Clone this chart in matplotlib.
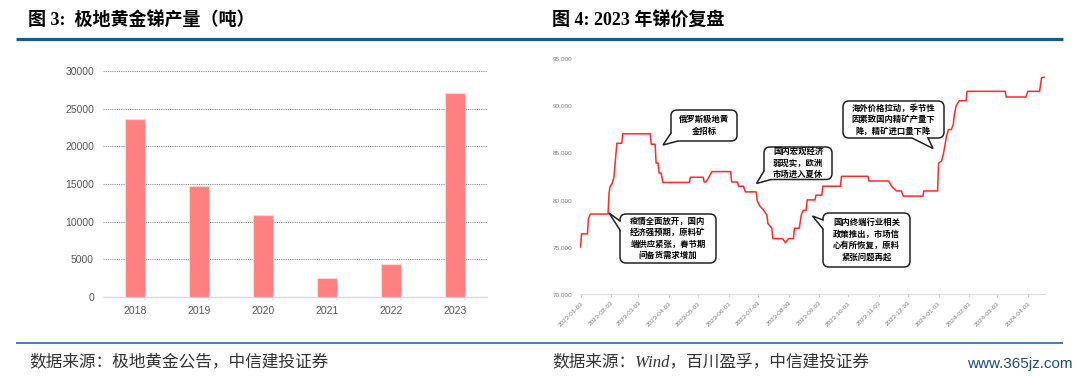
import matplotlib
matplotlib.use("Agg")
import matplotlib.pyplot as plt
from matplotlib.patches import FancyBboxPatch, Polygon
from matplotlib.ticker import FuncFormatter
import pandas as pd
import numpy as np

plt.rcParams['font.family'] = ['Liberation Sans', 'Noto Sans CJK SC', 'DejaVu Sans']

# 图3 data
years = ['2018', '2019', '2020', '2021', '2022', '2023']
output_t = [23600, 14750, 10950, 2480, 4370, 27130]

# 图4 data (price change points)
price_dates = [
    '2023-01-03', '2023-01-04', '2023-01-10', '2023-01-11', '2023-01-13', '2023-01-31',
    '2023-02-01', '2023-02-02', '2023-02-04', '2023-02-06', '2023-02-09', '2023-02-14',
    '2023-02-15', '2023-03-15', '2023-03-16', '2023-03-20', '2023-03-21', '2023-03-23',
    '2023-03-24', '2023-03-26', '2023-03-28', '2023-04-24', '2023-04-25', '2023-05-08',
    '2023-05-09', '2023-05-11', '2023-05-13', '2023-05-17', '2023-06-05', '2023-06-06',
    '2023-06-12', '2023-06-13', '2023-06-18', '2023-06-20', '2023-07-01', '2023-07-02',
    '2023-07-05', '2023-07-08', '2023-07-12', '2023-07-13', '2023-07-17', '2023-07-18',
    '2023-07-28', '2023-07-31', '2023-08-03', '2023-08-08', '2023-08-09', '2023-08-14',
    '2023-08-16', '2023-08-18', '2023-08-21', '2023-08-22', '2023-08-30', '2023-08-31',
    '2023-09-06', '2023-09-07', '2023-09-25', '2023-09-26', '2023-10-23', '2023-10-24',
    '2023-11-13', '2023-11-16', '2023-11-21', '2023-11-26', '2023-11-28', '2023-12-18',
    '2023-12-19', '2024-01-02', '2024-01-03', '2024-01-06', '2024-01-08', '2024-01-11',
    '2024-01-13', '2024-01-16', '2024-01-18', '2024-01-19', '2024-01-21', '2024-01-24',
    '2024-01-31', '2024-02-01', '2024-03-11', '2024-03-12', '2024-04-01', '2024-04-03',
    '2024-04-15', '2024-04-17', '2024-04-20',
]
price = [
    75000, 76400, 76400, 78000, 78500, 78500,
    80700, 81400, 81700, 82400, 86000, 86000,
    87000, 87000, 85900, 85900, 83900, 83900,
    82850, 82850, 81850, 81850, 82400, 82400,
    81900, 81900, 82250, 83000, 83000, 81900,
    81900, 81450, 81450, 80850, 80850, 79950,
    79300, 79000, 78400, 77500, 77000, 75900,
    75900, 75450, 75900, 75900, 77000, 77000,
    78400, 78900, 78900, 80000, 80000, 80500,
    80500, 81450, 81450, 82500, 82500, 82000,
    82000, 81450, 80950, 80950, 80400, 80400,
    80950, 80950, 83900, 84100, 84900, 86700,
    87450, 87450, 88000, 89000, 90000, 90500,
    90500, 91500, 91500, 90900, 90900, 91500,
    91500, 92950, 93000,
]
tick_dates = ['2023-01-03', '2023-02-03', '2023-03-03', '2023-04-03', '2023-05-03',
              '2023-06-03', '2023-07-03', '2023-08-03', '2023-09-03', '2023-10-03',
              '2023-11-03', '2023-12-03', '2024-01-03', '2024-02-03', '2024-03-03',
              '2024-04-03']

callouts = [
    ['俄罗斯极地黄', '金招标'],
    ['国内宏观经济', '弱现实，欧洲', '市场进入夏休'],
    ['海外价格拉动，季节性', '因素致国内精矿产量下', '降，精矿进口量下降'],
    ['疫情全面放开，国内', '经济强预期，原料矿', '端供应紧张，春节期', '间备货需求增加'],
    ['国内终端行业相关', '政策推出，市场信', '心有所恢复，原料', '紧张问题再起'],
]

W, H = 1080, 379
fig = plt.figure(figsize=(W / 100, H / 100), dpi=100)


def px_axes(x0, y0, x1, y1):
    # axes placed by pixel box (y measured from top)
    return fig.add_axes([x0 / W, 1 - y1 / H, (x1 - x0) / W, (y1 - y0) / H])


# ---- left: bar chart ----
ax1 = px_axes(103, 71, 487, 297)
x = np.arange(len(years))
ax1.bar(x, output_t, width=0.3, color='#FF8080', edgecolor='#FFD6D6', linewidth=0.8, zorder=3)
ax1.set_xlim(-0.5, len(years) - 0.5)
ax1.set_ylim(0, 30000)
ax1.set_yticks(range(0, 30001, 5000))
ax1.set_xticks(x)
ax1.set_xticklabels(years)
for v in range(5000, 30001, 5000):
    ax1.axhline(v, color='#8c8c8c', linestyle=(0, (1, 1)), linewidth=0.8, zorder=1)
for s in ['top', 'right', 'left']:
    ax1.spines[s].set_visible(False)
ax1.spines['bottom'].set_color('#d9d9d9')
ax1.spines['bottom'].set_linewidth(1.0)
ax1.tick_params(axis='both', length=0, labelsize=7.5, labelcolor='#595959', pad=6.5)

# ---- right: price line ----
ax2 = px_axes(579.6, 58.3, 1044.5, 294.3)
dates = pd.to_datetime(price_dates)
ax2.plot(dates, price, color='#FF2A2A', linewidth=1.1, zorder=3)
ax2.set_ylim(70000, 95000)
ax2.set_xlim(pd.Timestamp('2023-01-02'), pd.Timestamp('2024-04-20'))
ax2.set_yticks(range(70000, 95001, 5000))
ax2.yaxis.set_major_formatter(FuncFormatter(lambda v, p: f'{int(v):,}'))
ax2.set_xticks(pd.to_datetime(tick_dates))
ax2.set_xticklabels(tick_dates, rotation=45, ha='right', rotation_mode='anchor')
for s in ['top', 'right', 'left']:
    ax2.spines[s].set_visible(False)
ax2.spines['bottom'].set_color('#e0e0e0')
ax2.tick_params(axis='y', length=0, labelsize=4.6, labelcolor='#808080', pad=5)
ax2.tick_params(axis='x', length=2.5, color='#d0d0d0', labelsize=4.6, labelcolor='#808080', pad=2)

# ---- overlay for titles, rules and callouts ----
ov = fig.add_axes([0, 0, 1, 1], zorder=10)
ov.set_xlim(0, W)
ov.set_ylim(H, 0)
ov.axis('off')

ov.plot([15.5, 1063], [38.5, 38.5], color='#1A5A8A', linewidth=2.3, solid_capstyle='butt')
ov.plot([16, 1063], [342.5, 342.5], color='#1A5A8A', linewidth=1.1, solid_capstyle='butt')

title_font = ['Liberation Serif', 'Noto Sans CJK SC']
ov.text(27.5, 20.5, '图 3:  极地黄金锑产量（吨）', family=title_font, fontsize=13,
        fontweight='bold', ha='left', va='center', color='black')
ov.text(552, 20.5, '图 4: 2023 年锑价复盘', family=title_font, fontsize=13,
        fontweight='bold', ha='left', va='center', color='black')

src_font = ['Liberation Serif', 'Noto Sans CJK SC']
ov.text(29, 362, '数据来源：极地黄金公告，中信建投证券', family=src_font, fontsize=12,
        style='italic', ha='left', va='center', color='#333333')
ov.text(552, 362, '数据来源：Wind，百川盈孚，中信建投证券', family=src_font, fontsize=12,
        style='italic', ha='left', va='center', color='#333333')
ov.text(1073, 364, 'www.365jz.com', family=['Liberation Sans'],
        fontsize=11, ha='right', va='center', color='#1F4A86')

# bubble boxes (pixel layout): box, tail base points, tail tip
bubble_layout = [
    ((671, 110, 737, 141), (671, 133), (678, 141), (663, 145)),
    ((764, 147, 832, 179.5), (764, 171), (771, 179.5), (756.5, 183.5)),
    ((843, 101, 944, 138), (912, 138), (928, 138), (933, 148.5)),
    ((620, 214, 716, 263), (620, 221), (620, 230), (609, 213)),
    ((823, 213, 910, 267), (823, 220), (823, 229), (812.5, 216)),
]

for lines, (box, b1, b2, tip) in zip(callouts, bubble_layout):
    x0, y0, x1, y1 = box
    ov.add_patch(FancyBboxPatch((x0, y0), x1 - x0, y1 - y0,
                                boxstyle='round,pad=0,rounding_size=6',
                                facecolor='white', edgecolor='#222222', linewidth=1.1, zorder=5))
    cx, cy = (x0 + x1) / 2, (y0 + y1) / 2
    inner = []
    for b in (b1, b2):
        d = np.array([cx - b[0], cy - b[1]])
        d = d / np.hypot(*d) * 2.5
        inner.append((b[0] + d[0], b[1] + d[1]))
    ov.add_patch(Polygon([inner[0], b1, tip, b2, inner[1]], closed=True,
                         facecolor='white', edgecolor='none', zorder=6))
    ov.plot([b1[0], tip[0], b2[0]], [b1[1], tip[1], b2[1]], color='#222222',
            linewidth=1.1, zorder=7, solid_joinstyle='miter')
    ov.text(cx, cy, '\n'.join(lines), family=['Noto Sans CJK SC'], fontsize=6,
            fontweight='bold', ha='center', va='center', multialignment='center',
            linespacing=1.35, color='black', zorder=8)

fig.savefig('out.png', dpi=100)
